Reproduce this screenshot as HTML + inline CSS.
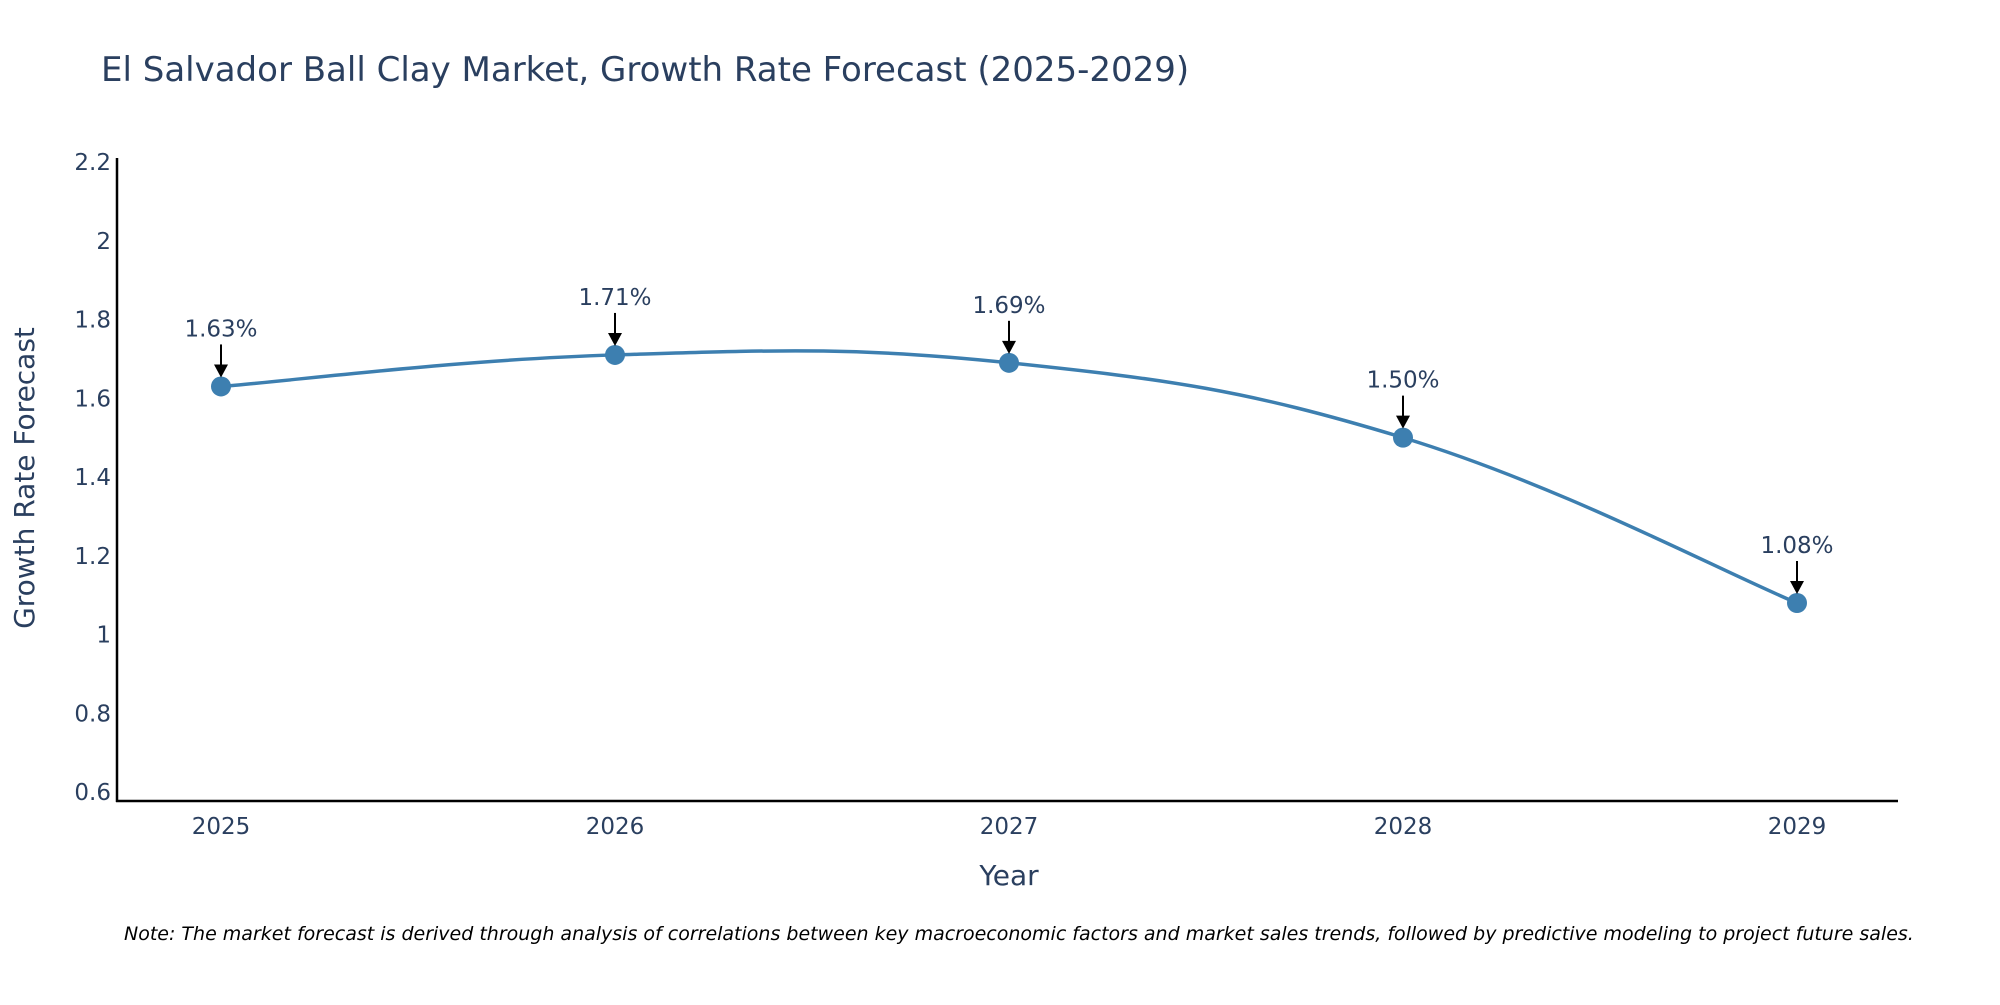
<!DOCTYPE html>
<html><head><meta charset="utf-8"><style>
body{margin:0;background:#fff;}
svg text{font-family:"DejaVu Sans","Liberation Sans",sans-serif;fill:#2a3f5f;}
</style></head><body>
<svg id="chart" width="2000" height="1000" xmlns="http://www.w3.org/2000/svg">
<text x="101" y="81" font-size="34">El Salvador Ball Clay Market, Growth Rate Forecast (2025-2029)</text>
<g id="yticks"></g>
<g id="xticks"></g>
<line x1="117" y1="158" x2="117" y2="802" stroke="#000" stroke-width="2.5"/>
<line x1="116" y1="801" x2="1898" y2="801" stroke="#000" stroke-width="2.5"/>
<path id="line" fill="none" stroke="#3d7fb0" stroke-width="3.5"/>
<g id="marks"></g>
<text x="1009" y="885" font-size="28" text-anchor="middle">Year</text>
<text transform="translate(34,478) rotate(-90)" font-size="28" text-anchor="middle">Growth Rate Forecast</text>
<text x="124" y="940" font-size="19" font-style="italic" style="fill:#000">Note: The market forecast is derived through analysis of correlations between key macroeconomic factors and market sales trends, followed by predictive modeling to project future sales.</text>
</svg>
<script>
const years = [2025, 2026, 2027, 2028, 2029];
const growth = [1.63, 1.71, 1.69, 1.50, 1.08];
const labels = ["1.63%", "1.71%", "1.69%", "1.50%", "1.08%"];
const yTicks = [0.6, 0.8, 1, 1.2, 1.4, 1.6, 1.8, 2, 2.2];
const ns = "http://www.w3.org/2000/svg";
function xs(v){return 221 + (v-2025)*394;}
function ys(v){return 792 - (v-0.6)/1.6*630;}
function mk(t,a,p){const e=document.createElementNS(ns,t);for(const k in a)e.setAttribute(k,a[k]);p.appendChild(e);return e;}
const yt=document.getElementById('yticks');
yTicks.forEach(v=>{const t=mk('text',{x:111,y:ys(v)+8,'font-size':23,'text-anchor':'end'},yt);


t.textContent=String(v);});
const xt=document.getElementById('xticks');
years.forEach(v=>{const t=mk('text',{x:xs(v),y:834,'font-size':23,'text-anchor':'middle'},xt);


t.textContent=String(v);});
const P=years.map((y,i)=>[xs(y),ys(growth[i])]);
let d=`M${P[0][0]},${P[0][1]}`;const s=0.2;
for(let i=0;i<P.length-1;i++){const p0=P[i-1]||P[i],p1=P[i],p2=P[i+1],p3=P[i+2]||P[i+1];
d+=` C${p1[0]+(p2[0]-p0[0])*s},${p1[1]+(p2[1]-p0[1])*s} ${p2[0]-(p3[0]-p1[0])*s},${p2[1]-(p3[1]-p1[1])*s} ${p2[0]},${p2[1]}`;}
document.getElementById('line').setAttribute('d',d);
const g=document.getElementById('marks');
P.forEach((p,i)=>{
const c=mk('circle',{cx:p[0],cy:p[1],r:10,fill:'#3d7fb0'},g);


const l=mk('line',{x1:p[0],y1:p[1]-42,x2:p[0],y2:p[1]-20,stroke:'#000','stroke-width':2},g);


const h=mk('polygon',{points:`${p[0]-7},${p[1]-22} ${p[0]+7},${p[1]-22} ${p[0]},${p[1]-9}`,fill:'#000'},g);


const t=mk('text',{x:p[0],y:p[1]-50,'font-size':23,'text-anchor':'middle'},g);


t.textContent=labels[i];});
</script>
</body></html>
